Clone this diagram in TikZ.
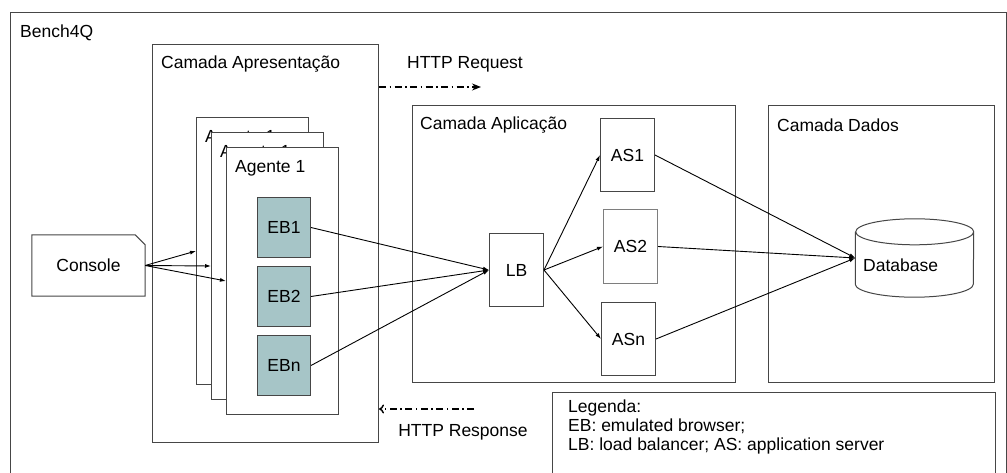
\documentclass[tikz,border=0pt]{standalone}
\usepackage{fontspec}
\setmainfont{Liberation Sans}
\usetikzlibrary{arrows.meta}
\definecolor{ebfill}{RGB}{166,197,199}
\definecolor{boxline}{RGB}{70,70,70}

\begin{document}
\begin{tikzpicture}[x=1pt,y=-1pt,font=\fontsize{17.5}{19}\selectfont,
    box/.style={rectangle,draw=boxline,fill=white,line width=1pt,inner sep=0pt},
    layer/.style={box,anchor=north west},
    lbl/.style={anchor=west,inner sep=0pt},
    >={Latex[length=6pt,width=4pt]},
    link/.style={line width=0.9pt},
    flow/.style={line width=1.4pt,dash pattern=on 7pt off 3.5pt on 1.5pt off 3.5pt}]
    \useasboundingbox (0,0) rectangle (1007,473);
    \clip (0,0) rectangle (1007,473);

    % outer frame
    \node[layer,minimum width=996pt,minimum height=490pt] (bench) at (10,12) {};
    \node[lbl] at (20,33) {Bench4Q};

    % presentation layer
    \node[layer,minimum width=226pt,minimum height=398pt] (pres) at (152,44) {};
    \node[lbl] at (161,64) {Camada Apresentação};
    \foreach \k in {0,1,2} {
        \node[layer,minimum width=112pt,minimum height=267pt] (agent\k) at (196+15*\k,117+15*\k) {};
        \node[lbl] at (205+15*\k,138+15*\k) {Agente 1};
    }
    \foreach \t/\y in {EB1/197,EB2/266,EBn/335}
        \node[layer,fill=ebfill,minimum width=53pt,minimum height=60pt] (\t) at (257,\y) {\t};

    % console
    \node[minimum width=113pt,minimum height=61pt] (console) at (88.5,265.5) {Console};
    \draw[boxline,line width=1pt] (console.south west) |- ([xshift=-10pt]console.north east)
        -- ([yshift=-10pt]console.north east) |- cycle;

    % application layer
    \node[layer,minimum width=323pt,minimum height=277pt] (app) at (412,105) {};
    \node[lbl] at (420,125) {Camada Aplicação};
    \node[layer,minimum width=54pt,minimum height=73pt] (LB) at (489,233) {LB};
    \node[layer,minimum width=54pt,minimum height=73pt] (AS1) at (600,118) {AS1};
    \node[layer,draw=boxline!70,minimum width=54pt,minimum height=74pt] (AS2) at (603,209) {AS2};
    \node[layer,minimum width=54pt,minimum height=73pt] (ASn) at (601,302) {ASn};

    % data layer
    \node[layer,minimum width=226pt,minimum height=277pt] (data) at (768,105) {};
    \node[lbl] at (777,125) {Camada Dados};
    \node[minimum width=118pt,minimum height=78pt] (db) at (914.5,258) {};
    \draw[boxline,line width=1pt] ([yshift=-13pt]db.north west) -- ([yshift=13pt]db.south west)
        arc[start angle=180,end angle=360,x radius=59pt,y radius=13pt]
        -- ([yshift=-13pt]db.north east)
        arc[start angle=0,end angle=360,x radius=59pt,y radius=13pt];
    \node[lbl] at (863,265) {Database};

    % connectors
    \foreach \k in {0,1,2} \draw[link,->] (console.east) -- (agent\k.west);
    \foreach \t in {EB1,EB2,EBn} \draw[link,->] (\t.east) -- (LB.west);
    \foreach \t in {AS1,AS2,ASn} {
        \draw[link,->] (LB.east) -- (\t.west);
        \draw[link,->] (\t.east) -- (db.west);
    }

    % requests
    \coordinate (req) at (481,87);
    \coordinate (resp) at (474,409);
    \draw[flow,-{Stealth[length=9pt,width=7pt]}] (pres.east |- req) -- (req);
    \draw[flow,-{To[length=5pt,width=9pt]}] (resp) -- (pres.east |- resp);
    \node at (465,64) {HTTP Request};
    \node at (463,432) {HTTP Response};

    % legend
    \node[layer,minimum width=443pt,minimum height=100pt] (legend) at (552,392) {};
    \node[anchor=north west,align=left,inner sep=0pt] at (568,400)
        {Legenda:\\EB: emulated browser;\\LB: load balancer; AS: application server};
\end{tikzpicture}
\end{document}
